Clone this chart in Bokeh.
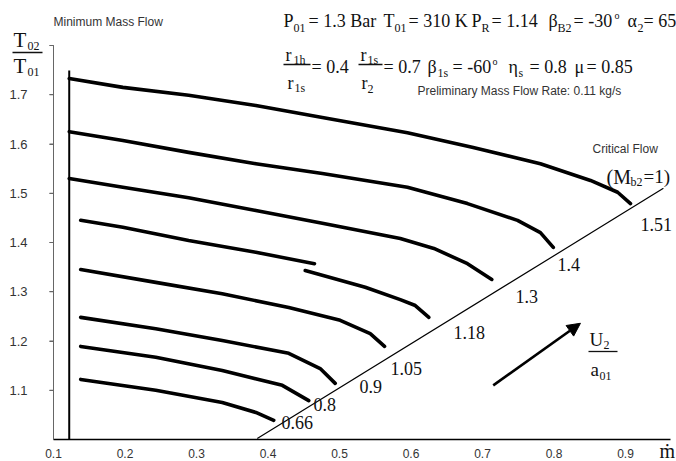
from bokeh.plotting import figure
from bokeh.models import Label, Arrow, NormalHead, FixedTicker, Range1d
from bokeh.embed import file_html
from bokeh.resources import INLINE

# ---------------- data ----------------
x_ticks = [0.1, 0.2, 0.3, 0.4, 0.5, 0.6, 0.7, 0.8, 0.9]
y_ticks = [1.1, 1.2, 1.3, 1.4, 1.5, 1.6, 1.7, 1.8]

speed_labels = ["1.51", "1.4", "1.3", "1.18", "1.05", "0.9", "0.8", "0.66"]

c151_x = [0.122, 0.197, 0.289, 0.383, 0.476, 0.595, 0.687, 0.781, 0.851, 0.889, 0.907]
c151_y = [1.733, 1.715, 1.699, 1.678, 1.654, 1.623, 1.593, 1.560, 1.526, 1.502, 1.479]

c140_x = [0.122, 0.197, 0.289, 0.383, 0.476, 0.595, 0.679, 0.749, 0.781, 0.799]
c140_y = [1.625, 1.607, 1.583, 1.560, 1.540, 1.512, 1.479, 1.445, 1.420, 1.390]

c130_x = [0.122, 0.197, 0.289, 0.383, 0.476, 0.585, 0.632, 0.679, 0.713]
c130_y = [1.530, 1.512, 1.491, 1.465, 1.439, 1.408, 1.388, 1.357, 1.325]

c118a_x = [0.138, 0.197, 0.289, 0.383, 0.465]
c118a_y = [1.445, 1.431, 1.404, 1.380, 1.357]
c118b_x = [0.452, 0.536, 0.585, 0.606, 0.625]
c118b_y = [1.343, 1.309, 1.284, 1.272, 1.248]

c105_x = [0.138, 0.243, 0.336, 0.429, 0.501, 0.543, 0.563]
c105_y = [1.345, 1.319, 1.296, 1.268, 1.242, 1.215, 1.189]

c090_x = [0.138, 0.243, 0.336, 0.429, 0.473, 0.494]
c090_y = [1.248, 1.225, 1.201, 1.175, 1.144, 1.114]

c080_x = [0.138, 0.243, 0.336, 0.420, 0.457]
c080_y = [1.189, 1.167, 1.140, 1.110, 1.079]

c066_x = [0.138, 0.243, 0.336, 0.383, 0.408]
c066_y = [1.122, 1.100, 1.075, 1.055, 1.039]

crit_x = [0.385, 0.953]
crit_y = [1.002, 1.510]

minflow_x = [0.122, 0.122]
minflow_y = [1.0, 1.749]

arrow_x = [0.715, 0.837]
arrow_y = [1.110, 1.236]

# ---------------- figure (frame spans the whole canvas) ----------------
W, H = 676, 461
AX_PX, AY_PX = 53, 439          # pixel position of the axes origin (x=0.1, y=1.0)
SX, SY = 715.0, 492.5           # pixels per data unit
XA, YA = 0.1, 1.0
Y_TOP = 1.8
X0 = XA - AX_PX / SX
X1 = XA + (W - AX_PX) / SX
Y0 = YA - (H - AY_PX) / SY
Y1 = YA + AY_PX / SY

p = figure(width=W, height=H, output_backend="svg", toolbar_location=None,
           x_range=Range1d(X0, X1), y_range=Range1d(Y0, Y1),
           min_border=0, min_border_left=0, min_border_right=0,
           min_border_top=0, min_border_bottom=0)
p.xgrid.visible = False
p.ygrid.visible = False
p.outline_line_color = None
p.background_fill_color = "white"
p.border_fill_color = "white"

SANS = "Liberation Sans"
SERIF = "Liberation Serif"
AXIS_GREY = "#666666"

p.xaxis.fixed_location = YA
p.xaxis.bounds = (XA, 0.9629)
p.xaxis.ticker = FixedTicker(ticks=x_ticks)
p.xaxis.axis_line_color = "black"
p.xaxis.axis_line_width = 1.5
p.xaxis.major_tick_out = 0
p.xaxis.major_tick_in = 0
p.xaxis.minor_tick_out = 0
p.xaxis.minor_tick_in = 0
p.xaxis.major_label_standoff = 9
p.xaxis.major_label_text_font = SANS
p.xaxis.major_label_text_font_size = "12px"
p.xaxis.major_label_text_color = "#333333"

p.yaxis.fixed_location = XA
p.yaxis.bounds = (YA, Y_TOP)
p.yaxis.ticker = FixedTicker(ticks=y_ticks)
p.yaxis.major_label_overrides = {1.8: ""}
p.yaxis.axis_line_color = AXIS_GREY
p.yaxis.axis_line_width = 1
p.yaxis.major_tick_line_color = AXIS_GREY
p.yaxis.major_tick_out = 4
p.yaxis.major_tick_in = 0
p.yaxis.minor_tick_out = 0
p.yaxis.minor_tick_in = 0
p.yaxis.major_label_standoff = 22
p.yaxis.major_label_text_font = SANS
p.yaxis.major_label_text_font_size = "13px"
p.yaxis.major_label_text_color = "#333333"

# the vertical axis line and its ticks, drawn on the same scale so they always show
p.line([XA, XA], [YA, Y_TOP], line_color=AXIS_GREY, line_width=1)
p.segment(x0=[XA - 4 / SX] * len(y_ticks), y0=y_ticks, x1=[XA] * len(y_ticks), y1=y_ticks,
          line_color=AXIS_GREY, line_width=1)

# curves
curves = [(c151_x, c151_y), (c140_x, c140_y), (c130_x, c130_y), (c118a_x, c118a_y),
          (c118b_x, c118b_y), (c105_x, c105_y), (c090_x, c090_y), (c080_x, c080_y),
          (c066_x, c066_y)]
for cx, cy in curves:
    p.line(cx, cy, line_color="black", line_width=3.6, line_join="round", line_cap="round")

p.line(crit_x, crit_y, line_color="black", line_width=1.2)
p.line(minflow_x, minflow_y, line_color="black", line_width=2)

p.add_layout(Arrow(x_start=arrow_x[0], y_start=arrow_y[0], x_end=arrow_x[1], y_end=arrow_y[1],
                   line_color="black", line_width=2.6,
                   end=NormalHead(size=13, fill_color="black", line_color="black")))


# ---------------- annotations (positions in reference pixels) ----------------
def px2x(px):
    return XA + (px - AX_PX) / SX


def py2y(py):
    return YA + (AY_PX - py) / SY


def put(px, py, text, size, font=SERIF, color="#111111", align="left"):
    # py is the wanted baseline; bokeh's alphabetic anchor sits ~0.3em above the drawn baseline
    p.add_layout(Label(x=px2x(px), y=py2y(py - 0.3 * size), text=text, text_font=font,
                       text_font_size=f"{size}px", text_color=color,
                       text_align=align, text_baseline="alphabetic"))


def hbar(x1, x2, y, w=1.3):
    p.line([px2x(x1), px2x(x2)], [py2y(y), py2y(y)], line_color="#111111", line_width=w)


# value labels along the critical-flow line
label_pos = [(640, 229), (557, 269), (515, 301), (453, 337), (390, 373), (359, 391), (313, 409), (281, 427)]
for txt, (lx, ly) in zip(speed_labels, label_pos):
    put(lx, ly, txt, 18)

# y-axis title T02/T01
put(13, 46, "T", 21)
put(27, 49, "02", 12)
hbar(12, 42, 52)
put(13, 72, "T", 21)
put(27, 75, "01", 12)

put(53, 25, "Minimum Mass Flow", 12, font=SANS, color="#333333")

# header line 1
B1, S1 = 26, 31
put(283, B1, "P", 18)
put(293, S1, "01", 12)
put(308, B1, "= 1.3 Bar", 18)
put(383, B1, "T", 18)
put(394, S1, "01", 12)
put(408, B1, "= 310 K", 18)
put(471, B1, "P", 18)
put(481, S1, "R", 12)
put(491, B1, "= 1.14", 18)
put(548, B1, "\u03b2", 18)
put(557, S1, "B2", 12)
put(573, B1, "= -30", 18)
put(614, 18, "o", 10)
put(627, B1, "\u03b1", 18)
put(637, S1, "2", 12)
put(643, B1, "= 65", 18)

# header line 2
put(285, 60, "r", 18)
put(293, 63, "1h", 12)
hbar(283, 310, 64)
put(287, 88, "r", 18)
put(294, 91, "1s", 12)
put(311, 72, "= 0.4", 18)

put(360, 60, "r", 18)
put(367, 63, "1s", 12)
hbar(358, 382, 64)
put(361, 88, "r", 18)
put(367, 92, "2", 12)
put(383, 72, "= 0.7", 18)

put(427, 72, "\u03b2", 18)
put(437, 76, "1s", 12)
put(452, 72, "= -60", 18)
put(492, 64, "o", 10)
put(508, 72, "\u03b7", 18)
put(518, 76, "s", 12)
put(529, 72, "= 0.8", 18)
put(574, 72, "\u03bc", 18)
put(586, 72, "= 0.85", 18)

put(417, 94, "Preliminary Mass Flow Rate: 0.11 kg/s", 12, font=SANS, color="#333333")

# critical flow note
put(592, 152, "Critical Flow", 12, font=SANS, color="#333333")
put(606, 182, "(M", 20)
put(630, 185, "b2", 12)
put(643, 182, "=1)", 19)

# U2 / a01
put(589, 345, "U", 19)
put(603, 348, "2", 12)
hbar(588, 617, 351)
put(590, 375, "a", 19)
put(599, 379, "01", 12)

# m-dot axis symbol
put(659, 456, "\u1e41", 20)

open("out.html", "w").write(file_html(p, INLINE))
